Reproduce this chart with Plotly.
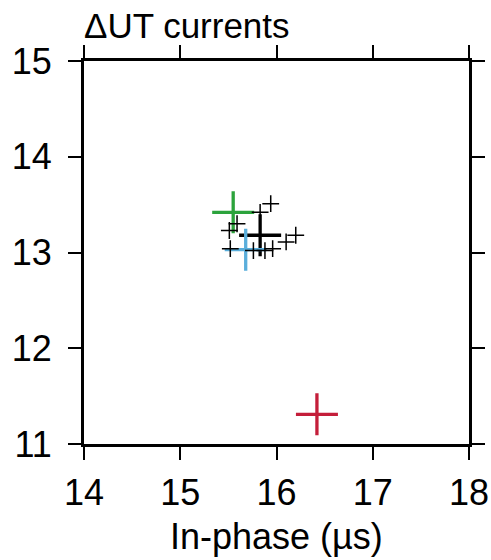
import plotly.graph_objects as go

# small crosses (individual estimates)
small_x = [15.83, 15.94, 15.51, 15.59, 15.52, 15.76, 15.88, 15.96, 16.10, 16.20]
small_y = [13.42, 13.51, 13.23, 13.30, 13.04, 13.02, 13.02, 13.04, 13.11, 13.18]

# large crosses
big_names = ["green", "black", "blue", "red"]
big_x = [15.55, 15.83, 15.68, 16.42]
big_y = [13.42, 13.18, 13.03, 11.31]
big_colors = ["#2ca33c", "#000000", "#5aaedb", "#c41e3a"]

x_ticks = [14, 15, 16, 17, 18]
y_ticks = [11, 12, 13, 14, 15]

FONT = "Liberation Sans, Arial, Helvetica, sans-serif"
W, H = 491, 560

fig = go.Figure()
for n, xx, yy, c in zip(big_names, big_x, big_y, big_colors):
    fig.add_trace(go.Scatter(
        x=[xx], y=[yy], mode="markers", name=n,
        marker=dict(symbol="cross-thin", size=30, line=dict(color=c, width=3.3)),
        showlegend=False))
fig.add_trace(go.Scatter(
    x=small_x, y=small_y, mode="markers",
    marker=dict(symbol="cross-thin", size=12, line=dict(color="black", width=1.5)),
    showlegend=False, hoverinfo="skip", cliponaxis=False))

axis_common = dict(
    showline=True, linecolor="black", linewidth=3, mirror="ticks",
    ticks="outside", ticklen=13, tickwidth=1.5, tickcolor="black",
    showgrid=False, zeroline=False, automargin=False,
    tickfont=dict(family=FONT, size=36, color="black"),
)
fig.update_xaxes(range=[14, 18], tickvals=x_ticks, ticklabelstandoff=2, **axis_common)
fig.update_yaxes(range=[11, 15], tickvals=y_ticks, ticklabelstandoff=9, **axis_common)

fig.add_annotation(text="In-phase (µs)", xref="paper", yref="paper",
                   x=0.5, y=(444 - 536) / 383, xanchor="center", yanchor="middle",
                   showarrow=False, font=dict(family=FONT, size=36, color="black"))

fig.update_layout(
    width=W, height=H,
    margin=dict(l=84, r=22, t=61, b=116),
    plot_bgcolor="white", paper_bgcolor="white",
    title=dict(text="ΔUT currents", x=84 / W, xanchor="left", xref="container",
               y=1 - 26 / H, yanchor="middle", yref="container",
               font=dict(family=FONT, size=35, color="black")),
)
fig.write_html("out.html", config={"displayModeBar": False},
               post_script="document.body.style.margin='0';document.body.style.overflow='hidden';")
